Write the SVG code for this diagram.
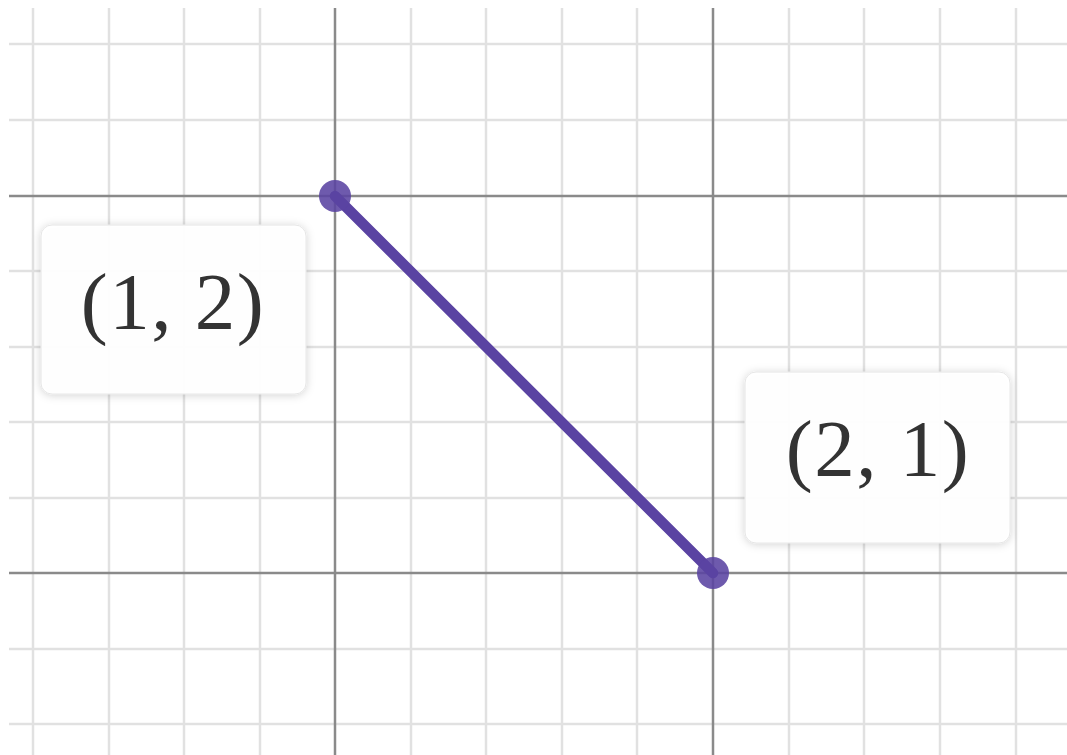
<svg xmlns="http://www.w3.org/2000/svg" width="1067" height="755" viewBox="0 0 1067 755">
  <style>
    .minor { stroke: #e1e1e1; stroke-width: 2.5; }
    .major { stroke: #8a8a8a; stroke-width: 2.5; }
    .seg { stroke: #5a43a2; stroke-width: 10.5; stroke-linecap: round; }
    .pt { fill: #5a43a2; fill-opacity: 0.88; }
    .box { fill: #ffffff; fill-opacity: 0.95; stroke: #e6e6e6; stroke-width: 1; }
    .lbl { font-family: "Liberation Serif", "DejaVu Serif", serif; font-size: 81px; fill: #333333; text-anchor: middle; letter-spacing: 1.5px; }
  </style>
  <defs>
    <filter id="shadow" x="-10%" y="-15%" width="120%" height="135%">
      <feDropShadow dx="0" dy="1" stdDeviation="4" flood-color="#000000" flood-opacity="0.18"/>
    </filter>
  </defs>
  <rect width="1067" height="755" fill="#ffffff"/>
  <g id="grid">
    <g class="minor">
      <line x1="33" y1="8" x2="33" y2="755"/>
      <line x1="109" y1="8" x2="109" y2="755"/>
      <line x1="184" y1="8" x2="184" y2="755"/>
      <line x1="260" y1="8" x2="260" y2="755"/>
      <line x1="411" y1="8" x2="411" y2="755"/>
      <line x1="486" y1="8" x2="486" y2="755"/>
      <line x1="562" y1="8" x2="562" y2="755"/>
      <line x1="637" y1="8" x2="637" y2="755"/>
      <line x1="789" y1="8" x2="789" y2="755"/>
      <line x1="864" y1="8" x2="864" y2="755"/>
      <line x1="940" y1="8" x2="940" y2="755"/>
      <line x1="1016" y1="8" x2="1016" y2="755"/>
      <line x1="9" y1="44" x2="1067" y2="44"/>
      <line x1="9" y1="120" x2="1067" y2="120"/>
      <line x1="9" y1="271" x2="1067" y2="271"/>
      <line x1="9" y1="347" x2="1067" y2="347"/>
      <line x1="9" y1="422" x2="1067" y2="422"/>
      <line x1="9" y1="498" x2="1067" y2="498"/>
      <line x1="9" y1="649" x2="1067" y2="649"/>
      <line x1="9" y1="724" x2="1067" y2="724"/>
    </g>
    <g class="major">
      <line x1="335" y1="8" x2="335" y2="755"/>
      <line x1="713" y1="8" x2="713" y2="755"/>
      <line x1="9" y1="196" x2="1067" y2="196"/>
      <line x1="9" y1="573" x2="1067" y2="573"/>
    </g>
  </g>
  <g id="connectors">
    <line class="seg" x1="335" y1="196" x2="713" y2="573"/>
  </g>
  <g id="point-1-2">
    <circle class="pt" cx="335" cy="196" r="16"/>
  </g>
  <g id="point-2-1">
    <circle class="pt" cx="713" cy="573" r="16"/>
  </g>
  <g id="label-1-2">
    <rect class="box" x="41" y="225" width="265" height="169" rx="11" filter="url(#shadow)"/>
    <text class="lbl" x="173" y="329">(1, 2)</text>
  </g>
  <g id="label-2-1">
    <rect class="box" x="745" y="372" width="265" height="171" rx="11" filter="url(#shadow)"/>
    <text class="lbl" x="878" y="476">(2, 1)</text>
  </g>
</svg>
